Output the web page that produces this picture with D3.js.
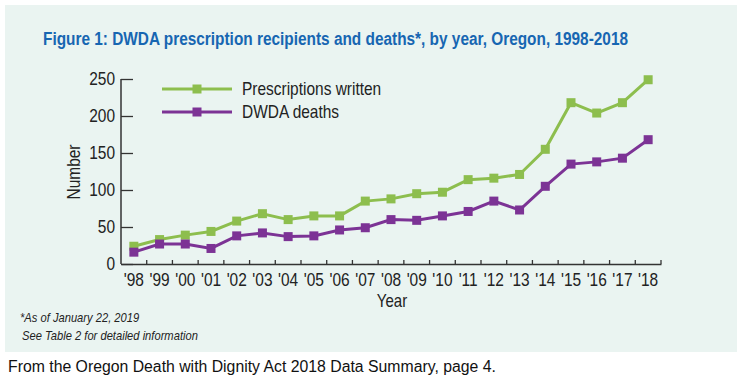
<!DOCTYPE html>
<html>
<head>
<meta charset="utf-8">
<script src="https://cdn.jsdelivr.net/npm/d3@7"></script>
<style>
  body { margin: 0; background: #fff; }
  svg text { font-family: "Liberation Sans", Arial, Helvetica, sans-serif; }
</style>
</head>
<body>
<div id="chart"></div>
<script>
var svgWidth = 742;
var svgHeight = 383;

// data
var years = ["'98", "'99", "'00", "'01", "'02", "'03", "'04", "'05", "'06", "'07",
  "'08", "'09", "'10", "'11", "'12", "'13", "'14", "'15", "'16", "'17", "'18"];
var prescriptions = [24, 33, 39, 44, 58, 68, 60, 65, 65, 85, 88, 95, 97, 114, 116, 121, 155, 218, 204, 218, 249];
var deaths = [16, 27, 27, 21, 38, 42, 37, 38, 46, 49, 60, 59, 65, 71, 85, 73, 105, 135, 138, 143, 168];
var yTicks = [0, 50, 100, 150, 200, 250];
var seriesNames = ["Prescriptions written", "DWDA deaths"];

var green = "#8dbe4e";
var purple = "#7c3395";
var ink = "#222";
// the original uses a condensed face; squeeze Liberation Sans horizontally
var narrow = 0.86;

var margin = { top: 79, right: 81, bottom: 119, left: 121 };
var width = svgWidth - margin.left - margin.right;
var height = svgHeight - margin.top - margin.bottom;

var svg = d3.select("#chart")
  .append("svg")
  .attr("width", svgWidth)
  .attr("height", svgHeight);

// helper for free-standing condensed text
function addText(parent, x, y, str, size, extra) {
  var g = parent.append("g").attr("transform", `translate(${x}, ${y})` + (extra || ""));
  return g.append("text")
    .attr("transform", `scale(${narrow}, 1)`)
    .attr("font-size", size)
    .attr("fill", ink)
    .text(str);
}

// light panel behind the figure
svg.append("rect")
  .attr("x", 5).attr("y", 5)
  .attr("width", 732).attr("height", 347)
  .attr("fill", "#eaf4f1");

svg.append("text")
  .attr("x", 43).attr("y", 45)
  .attr("fill", "#1766b2")
  .attr("font-size", 17.5)
  .attr("font-weight", "bold")
  .attr("textLength", 585)
  .attr("lengthAdjust", "spacingAndGlyphs")
  .text("Figure 1: DWDA prescription recipients and deaths*, by year, Oregon, 1998-2018");

var chartGroup = svg.append("g")
  .attr("transform", `translate(${margin.left}, ${margin.top})`);

var xScale = d3.scaleBand()
  .domain(years)
  .range([0, width])
  .padding(0);

var yScale = d3.scaleLinear()
  .domain([0, 250])
  .range([height, 0]);

// y axis, ticks pointing into the plot
var yAxis = chartGroup.append("g")
  .call(d3.axisLeft(yScale).tickValues(yTicks).tickSize(-12).tickPadding(7));

// x axis: labels at band centres, small ticks at band edges
var xAxis = chartGroup.append("g")
  .attr("transform", `translate(0, ${height})`)
  .call(d3.axisBottom(xScale).tickSize(0).tickPadding(9));

xAxis.selectAll(".tick-edge")
  .data(years)
  .enter()
  .append("line")
  .attr("x1", d => xScale(d) + xScale.bandwidth())
  .attr("x2", d => xScale(d) + xScale.bandwidth())
  .attr("y1", 0)
  .attr("y2", -4)
  .attr("stroke", "#333")
  .attr("stroke-width", 1.3);

[yAxis, xAxis].forEach(function(ax) {
  ax.select(".domain").attr("stroke", "#333").attr("stroke-width", 1.5);
  ax.selectAll(".tick line").attr("stroke", "#333").attr("stroke-width", 1.3);
  ax.selectAll("text")
    .attr("font-size", 18)
    .attr("fill", ink)
    .attr("transform", `scale(${narrow}, 1)`)
    .style("font-family", '"Liberation Sans", Arial, sans-serif');
});
yAxis.select(".domain").attr("d", `M0,${height}V0`);

// series lines and square markers
var series = [
  { name: seriesNames[0], values: prescriptions, color: green },
  { name: seriesNames[1], values: deaths, color: purple }
];

var line = d3.line()
  .x((d, i) => xScale(years[i]) + xScale.bandwidth() / 2)
  .y(d => yScale(d));

series.forEach(function(s) {
  chartGroup.append("path")
    .datum(s.values)
    .attr("d", line)
    .attr("fill", "none")
    .attr("stroke", s.color)
    .attr("stroke-width", 3);

  chartGroup.selectAll(null)
    .data(s.values)
    .enter()
    .append("rect")
    .attr("x", (d, i) => xScale(years[i]) + xScale.bandwidth() / 2 - 4.5)
    .attr("y", d => yScale(d) - 4.5)
    .attr("width", 9)
    .attr("height", 9)
    .attr("fill", s.color);
});

// legend
var legend = svg.append("g").attr("transform", "translate(162, 89)");
series.forEach(function(s, i) {
  var row = legend.append("g").attr("transform", `translate(0, ${i * 23})`);
  row.append("line")
    .attr("x1", 0).attr("x2", 70)
    .attr("stroke", s.color).attr("stroke-width", 3);
  row.append("rect")
    .attr("x", 35 - 4.5).attr("y", -4.5)
    .attr("width", 9).attr("height", 9)
    .attr("fill", s.color);
  addText(row, 80, 6, s.name, 18);
});

// axis titles
addText(svg, 80, 172, "Number", 18, " rotate(-90)").attr("text-anchor", "middle");
addText(svg, 392, 307, "Year", 17.5).attr("text-anchor", "middle");

// footnotes
addText(svg, 20, 322, "*As of January 22, 2019", 13).attr("font-style", "italic");
addText(svg, 22, 340, "See Table 2 for detailed information", 13).attr("font-style", "italic");

svg.append("text")
  .attr("x", 8).attr("y", 372)
  .attr("font-size", 15.8)
  .attr("fill", "#111")
  .text("From the Oregon Death with Dignity Act 2018 Data Summary, page 4.");
</script>
</body>
</html>
